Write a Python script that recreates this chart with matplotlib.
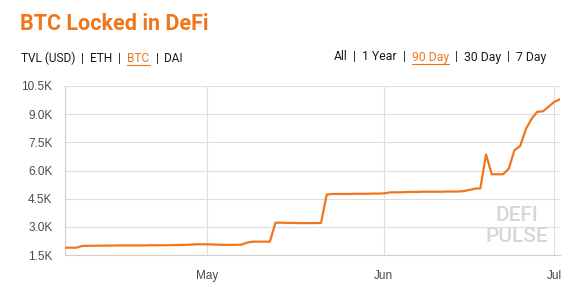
import matplotlib
matplotlib.use("Agg")
import matplotlib.pyplot as plt
from matplotlib.lines import Line2D
import pandas as pd

ORANGE = "#f0761d"

start_date = "2020-04-06"
btc_locked_k = [
    1.89, 1.89, 1.89, 1.98, 1.99, 1.99, 2.00, 2.00, 2.00, 2.01, 2.01, 2.01, 2.01,
    2.01, 2.01, 2.02, 2.02, 2.02, 2.02, 2.03, 2.03, 2.04, 2.05, 2.07, 2.07,
    # May
    2.07, 2.06, 2.05, 2.04, 2.04, 2.04, 2.05, 2.16, 2.21, 2.21, 2.21, 2.21,
    3.22, 3.22, 3.21, 3.21, 3.20, 3.20, 3.20, 3.20, 3.21, 4.72, 4.75, 4.75,
    4.75, 4.75, 4.76, 4.76, 4.76, 4.77, 4.77,
    # Jun
    4.78, 4.83, 4.84, 4.84, 4.85, 4.86, 4.86, 4.87, 4.87, 4.87, 4.87, 4.88,
    4.88, 4.88, 4.90, 4.96, 5.03, 5.05, 6.85, 5.80, 5.80, 5.80, 6.10, 7.09,
    7.30, 8.20, 8.75, 9.13, 9.15, 9.40,
    # Jul
    9.66, 9.79,
]
dates = pd.date_range(start_date, periods=len(btc_locked_k), freq="D")

y_ticks = [1.5, 3.0, 4.5, 6.0, 7.5, 9.0, 10.5]
x_ticks = ["2020-05-01", "2020-06-01", "2020-07-01"]
x_tick_labels = ["May", "Jun", "Jul"]

left_menu = [("TVL (USD)", False), ("ETH", False), ("BTC", True), ("DAI", False)]
right_menu = [("All", False), ("1 Year", False), ("90 Day", True),
              ("30 Day", False), ("7 Day", False)]

plt.rcParams["font.family"] = ["Roboto", "DejaVu Sans"]

fig = plt.figure(figsize=(5.77, 2.88), dpi=100)
ax = fig.add_axes([65 / 577, 33 / 288, 495 / 577, 169 / 288])

ax.plot(dates, btc_locked_k, color=ORANGE, lw=1.6, solid_joinstyle="round", zorder=3)

ax.set_ylim(1.5, 10.5)
ax.set_yticks(y_ticks)
ax.set_yticklabels([f"{v:.1f}K" for v in y_ticks])
ax.set_xlim(dates[0], dates[-1])
ax.set_xticks(pd.to_datetime(x_ticks))
ax.set_xticklabels(x_tick_labels)

ax.grid(True, color="#dedede", lw=0.8)
ax.set_axisbelow(True)
for side in ["top", "right"]:
    ax.spines[side].set_visible(False)
for side in ["left", "bottom"]:
    ax.spines[side].set_color("#cfcfcf")
    ax.spines[side].set_linewidth(0.8)
ax.tick_params(length=0, labelsize=8.5, labelcolor="#4a4a4a",
               labelfontfamily="Liberation Sans")
ax.tick_params(axis="x", pad=11)
ax.tick_params(axis="y", pad=9)

# watermark
ax.text(0.913, 0.235, "DEFI", transform=ax.transAxes, ha="center", va="center",
        fontsize=15, color="#d6d6dc", fontweight="medium")
ax.text(0.913, 0.112, "PULSE", transform=ax.transAxes, ha="center", va="center",
        fontsize=15, color="#d6d6dc", fontweight="medium")

fig.text(20 / 577, 1 - 24 / 288, "BTC Locked in DeFi", color=ORANGE,
         fontsize=15.5, fontweight="bold", va="center", ha="left")

renderer = fig.canvas.get_renderer()


def draw_menu(items, x0, y, align="left", size=8.6):
    # lay out pieces one after another, measure widths in pixels
    pieces = []
    for i, (label, active) in enumerate(items):
        if i > 0:
            pieces.append(("  |  ", False))
        pieces.append((label, active))
    widths = []
    for label, _ in pieces:
        t = fig.text(0, 0, label, fontsize=size)
        widths.append(t.get_window_extent(renderer).width)
        t.remove()
    x = x0 - sum(widths) if align == "right" else x0
    for (label, active), w in zip(pieces, widths):
        color = ORANGE if active else "#1a1a1a"
        fig.text(x / 577, 1 - y / 288, label, fontsize=size, color=color,
                 va="center", ha="left")
        if active:
            yy = 1 - (y + 6.5) / 288
            fig.add_artist(Line2D([x / 577, (x + w) / 577], [yy, yy],
                                  color=ORANGE, lw=0.8))
        x += w


draw_menu(left_menu, 21, 58)
draw_menu(right_menu, 546, 57, align="right", size=8.8)

fig.savefig("out.png", dpi=100)
